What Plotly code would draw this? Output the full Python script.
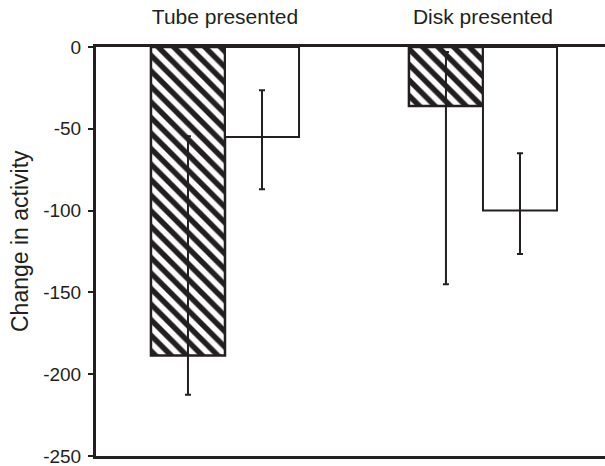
import plotly.graph_objects as go

categories = ["Tube presented", "Disk presented"]
hatched_means = [-188.5, -36]
hatched_err_up = [134, 33]
hatched_err_down = [24, 109]
open_means = [-55, -100]
open_err_up = [28.5, 35]
open_err_down = [32, 26.5]
y_ticks = [0, -50, -100, -150, -200, -250]
y_tick_text = ["0", "-50", "-100", "-150", "-200", "-250"]
y_title = "Change in activity"

INK = "#231f20"
FONT = "Liberation Sans, Arial, sans-serif"

fig = go.Figure()
fig.add_trace(go.Bar(
    x=categories, y=hatched_means, name="hatched",
    marker=dict(color="white", line=dict(color=INK, width=2.5),
                pattern=dict(shape="\\", fgcolor=INK, bgcolor="white", fgopacity=1,
                             size=11, solidity=0.5)),
    error_y=dict(type="data", symmetric=False, array=hatched_err_up, arrayminus=hatched_err_down,
                 color=INK, thickness=2, width=3),
))
fig.add_trace(go.Bar(
    x=categories, y=open_means, name="open",
    marker=dict(color="white", line=dict(color=INK, width=2)),
    error_y=dict(type="data", symmetric=False, array=open_err_up, arrayminus=open_err_down,
                 color=INK, thickness=2, width=3),
))

fig.update_layout(
    width=605, height=466,
    margin=dict(l=96, r=0, t=47, b=10, autoexpand=False),
    paper_bgcolor="white", plot_bgcolor="white",
    barmode="group", bargap=0.426, bargroupgap=0,
    showlegend=False,
    font=dict(family=FONT, color=INK),
)
fig.update_xaxes(
    side="top", range=[-0.5, 1.473], showline=True, linewidth=3, linecolor=INK,
    mirror=True, ticks="", showgrid=False, zeroline=False, automargin=False,
    ticklabelstandoff=12,
    tickfont=dict(size=21, color=INK, family=FONT),
)
fig.update_yaxes(
    range=[-250, 0], tickvals=y_ticks, ticktext=y_tick_text,
    showline=True, linewidth=3, linecolor=INK, mirror=False,
    ticks="outside", ticklen=5, tickwidth=2, tickcolor=INK,
    showgrid=False, zeroline=False, automargin=False,
    ticklabelstandoff=3, ticklabeloverflow="allow",
    tickfont=dict(size=19, color=INK, family=FONT),
)
fig.add_annotation(
    text=y_title, textangle=-90, showarrow=False,
    xref="paper", yref="paper", x=-0.149, y=0.526,
    xanchor="center", yanchor="middle",
    font=dict(size=23, color=INK, family=FONT),
)

fig.write_html(
    "out.html",
    config={"displayModeBar": False},
    post_script="document.body.style.margin='0';document.body.style.overflow='hidden';",
)
